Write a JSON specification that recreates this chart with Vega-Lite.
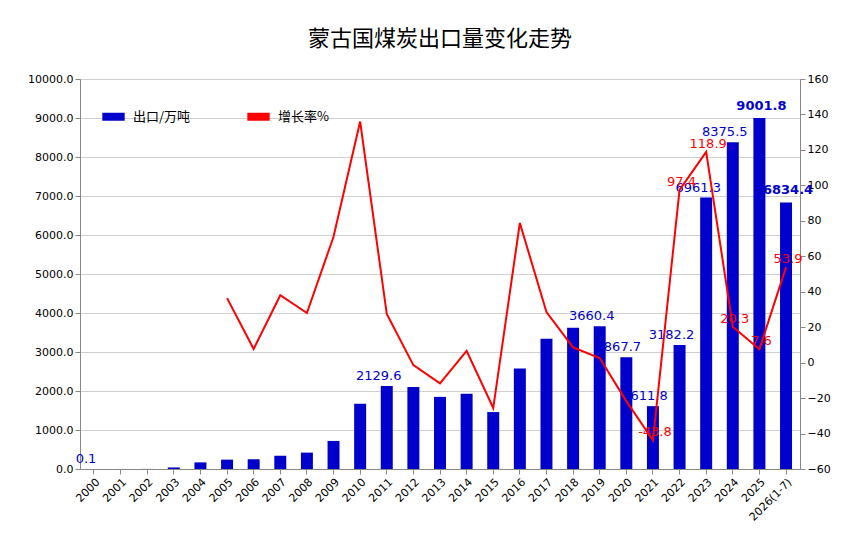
{
"$schema":"https://vega.github.io/schema/vega-lite/v6.json",
"width":720,"height":390,
"autosize":{"type":"none"},
"padding":{"left":80,"top":79,"right":53,"bottom":78},
"background":"white",
"title":{"text":"蒙古国煤炭出口量变化走势","fontSize":22,"font":"Noto Sans CJK SC","fontWeight":"normal","offset":22,"color":"#000"},
"config":{"font":"DejaVu Sans","view":{"stroke":"#999"},"axis":{"labelFontSize":11,"labelColor":"#000","domainColor":"#888","tickColor":"#888"}},
"data":{"values":[
{"y":"2000","v":0.1,"g":null,"bl":"0.1","rl":"","b":0},
{"y":"2001","v":1,"g":null,"bl":"","rl":"","b":0},
{"y":"2002","v":2,"g":null,"bl":"","rl":"","b":0},
{"y":"2003","v":40,"g":null,"bl":"","rl":"","b":0},
{"y":"2004","v":170,"g":null,"bl":"","rl":"","b":0},
{"y":"2005","v":240,"g":36.4,"bl":"","rl":"","b":0},
{"y":"2006","v":250,"g":7.7,"bl":"","rl":"","b":0},
{"y":"2007","v":340,"g":38,"bl":"","rl":"","b":0},
{"y":"2008","v":420,"g":28,"bl":"","rl":"","b":0},
{"y":"2009","v":720,"g":71,"bl":"","rl":"","b":0},
{"y":"2010","v":1670,"g":136,"bl":"","rl":"","b":0},
{"y":"2011","v":2129.6,"g":27.4,"bl":"2129.6","rl":"","b":0},
{"y":"2012","v":2100,"g":-1.4,"bl":"","rl":"","b":0},
{"y":"2013","v":1850,"g":-11.7,"bl":"","rl":"","b":0},
{"y":"2014","v":1930,"g":6.6,"bl":"","rl":"","b":0},
{"y":"2015","v":1460,"g":-25.6,"bl":"","rl":"","b":0},
{"y":"2016","v":2580,"g":78.8,"bl":"","rl":"","b":0},
{"y":"2017","v":3340,"g":28.5,"bl":"","rl":"","b":0},
{"y":"2018","v":3620,"g":8.6,"bl":"","rl":"","b":0},
{"y":"2019","v":3660.4,"g":2.6,"bl":"3660.4","rl":"","b":0},
{"y":"2020","v":2867.7,"g":-21.7,"bl":"2867.7","rl":"","b":0},
{"y":"2021","v":1611.8,"g":-43.8,"bl":"1611.8","rl":"-43.8","b":0},
{"y":"2022","v":3182.2,"g":97.4,"bl":"3182.2","rl":"97.4","b":0},
{"y":"2023","v":6961.3,"g":118.9,"bl":"6961.3","rl":"118.9","b":0},
{"y":"2024","v":8375.5,"g":20.3,"bl":"8375.5","rl":"20.3","b":0},
{"y":"2025","v":9001.8,"g":7.6,"bl":"9001.8","rl":"7.6","b":1},
{"y":"2026(1-7)","v":6834.4,"g":53.9,"bl":"6834.4","rl":"53.9","b":1}
]},
"encoding":{"x":{"field":"y","type":"nominal","sort":null,"title":null,"scale":{"paddingInner":0.55,"paddingOuter":0.3},"axis":{"labelAngle":-45,"labelFontSize":11}}},
"layer":[
{"layer":[
{"mark":{"type":"bar","color":"#0000CC"},
"encoding":{"y":{"field":"v","type":"quantitative","scale":{"domain":[0,10000]},"title":null,"axis":{"tickCount":10,"format":".1f","gridColor":"#d0d0d0"}},
"color":{"datum":"出口/万吨","type":"nominal","scale":{"domain":["出口/万吨","增长率%"],"range":["#0000CC","#FF0000"]},"legend":{"title":null,"orient":"none","legendX":18,"legendY":22,"direction":"horizontal","symbolType":"stroke","symbolStrokeWidth":8,"symbolSize":500,"labelFontSize":13,"labelFont":"Noto Sans CJK SC","columnPadding":40}}}},
{"transform":[{"filter":"datum.b==0"}],"mark":{"type":"text","color":"#0000CC","fontSize":13,"dy":-10,"dx":-8},
"encoding":{"y":{"field":"v","type":"quantitative"},"text":{"field":"bl"}}},
{"transform":[{"filter":"datum.b==1"}],"mark":{"type":"text","color":"#0000CC","fontSize":13,"fontWeight":"bold","dy":-12,"dx":2},
"encoding":{"y":{"field":"v","type":"quantitative"},"text":{"field":"bl"}}}
]},
{"layer":[
{"mark":{"type":"line","strokeWidth":2},
"encoding":{"y":{"field":"g","type":"quantitative","scale":{"domain":[-60,160]},"title":null,"axis":{"orient":"right","tickCount":11,"grid":false}},
"color":{"datum":"增长率%","type":"nominal"}}},
{"mark":{"type":"text","color":"#FF0000","fontSize":13,"dy":-8,"dx":2},
"encoding":{"y":{"field":"g","type":"quantitative"},"text":{"field":"rl"}}}
]}
],
"resolve":{"scale":{"y":"independent"}}
}
